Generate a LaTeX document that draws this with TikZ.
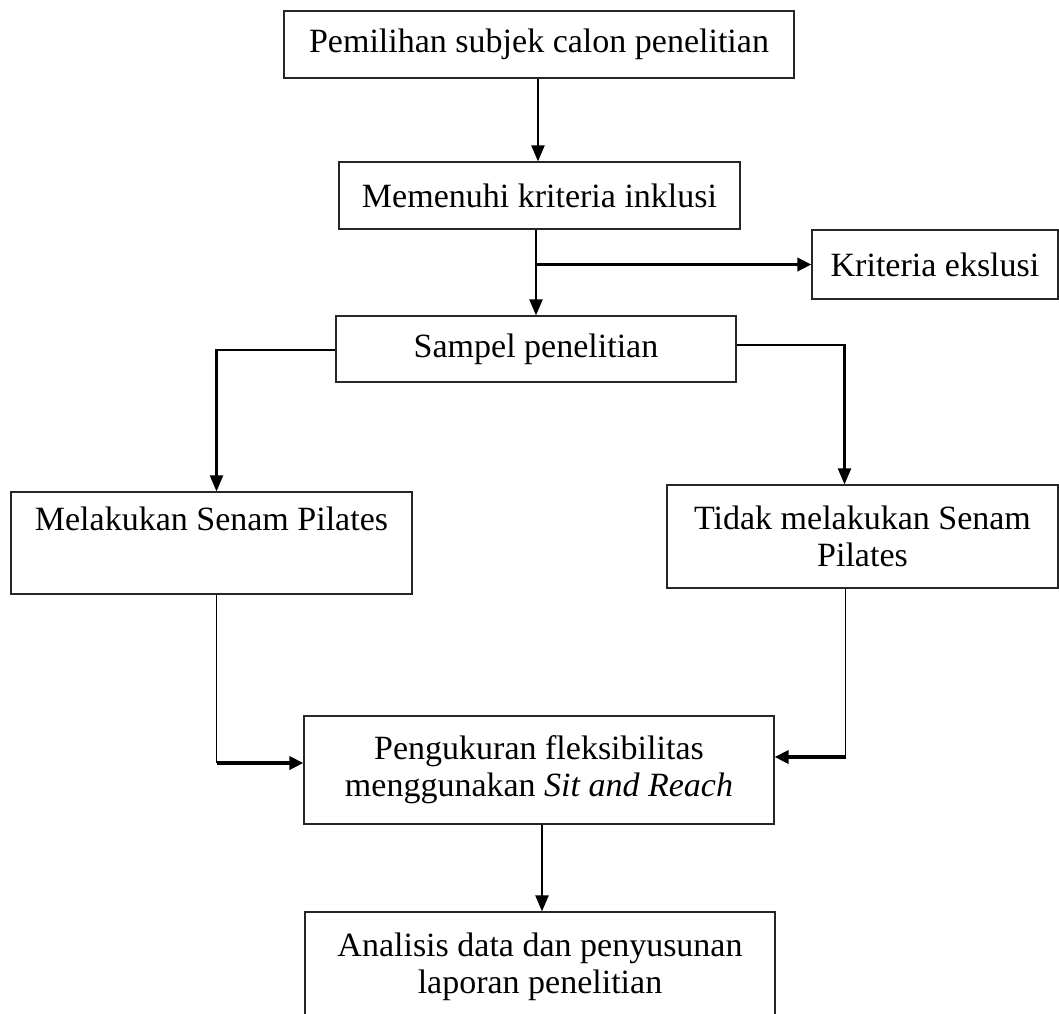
\documentclass[tikz,border=0pt]{standalone}
\usepackage{fontspec}
\setmainfont{Liberation Serif}
\usetikzlibrary{arrows.meta,calc}
\begin{document}
\begin{tikzpicture}[x=0.5pt,y=-0.5pt,
  font=\fontsize{17}{18.5}\selectfont,
  kotak/.style={draw=black!85,line width=0.6pt,inner sep=0pt,align=center},
  garis/.style={line width=1.1pt},
  tipis/.style={line width=0.7pt},
  panah/.style={garis,-{Triangle[length=8pt,width=6.5pt]}},
  tebal/.style={line width=1.8pt,-{Triangle[length=7pt,width=6.5pt]}}]
  \useasboundingbox (0,0) rectangle (1059,1013);
  \node[kotak,minimum width=255pt,minimum height=33.5pt] (subjek) at (539,44.5) {Pemilihan subjek calon penelitian};
  \node[kotak,minimum width=200.5pt,minimum height=33.5pt] (inklusi) at (539.5,195.5) {Memenuhi kriteria inklusi};
  \node[kotak,minimum width=123pt,minimum height=34.5pt] (ekslusi) at (935,264.5) {Kriteria ekslusi};
  \node[kotak,minimum width=200pt,minimum height=33pt] (sampel) at (536,349) {Sampel penelitian};
  \node[kotak,minimum width=200.5pt,minimum height=51pt] (senam) at (211.5,543) {Melakukan Senam Pilates\\ \strut};
  \node[kotak,minimum width=195.5pt,minimum height=51.5pt] (tidak) at (862.5,536.5) {Tidak melakukan Senam\\ Pilates};
  \node[kotak,minimum width=235pt,minimum height=54pt] (ukur) at (539,770) {Pengukuran fleksibilitas\\ menggunakan \textit{Sit and Reach}};
  \node[kotak,minimum width=235pt,minimum height=55pt] (analisis) at (540,967) {Analisis data dan penyusunan\\ laporan penelitian};
  \coordinate (cabang) at (sampel.north |- ekslusi.west);
  \coordinate (kiri) at ([xshift=2.5pt]senam.south |- 0,763);
  \coordinate (kanan) at ([xshift=-8.5pt]tidak.south |- 0,757);
  \draw[panah] ([xshift=-0.5pt]subjek.south) -- ([xshift=-0.5pt]subjek.south |- inklusi.north);
  \draw[panah] (inklusi.south -| sampel.north) -- (sampel.north);
  \draw[tebal] (cabang) -- (ekslusi.west);
  \draw[panah] ([yshift=-0.5pt]sampel.west) -| ([xshift=2.5pt]senam.north);
  \draw[panah] ([yshift=2pt]sampel.east) -| ([xshift=-9pt]tidak.north);
  \draw[tipis] ([xshift=2.5pt]senam.south) -- (kiri);
  \draw[tebal] (kiri) -- (ukur.west |- kiri);
  \draw[tipis] ([xshift=-8.5pt]tidak.south) -- (kanan);
  \draw[tebal] (kanan) -- (ukur.east |- kanan);
  \draw[panah] ([xshift=1.5pt]ukur.south) -- ([xshift=1.5pt]ukur.south |- analisis.north);
\end{tikzpicture}
\end{document}
